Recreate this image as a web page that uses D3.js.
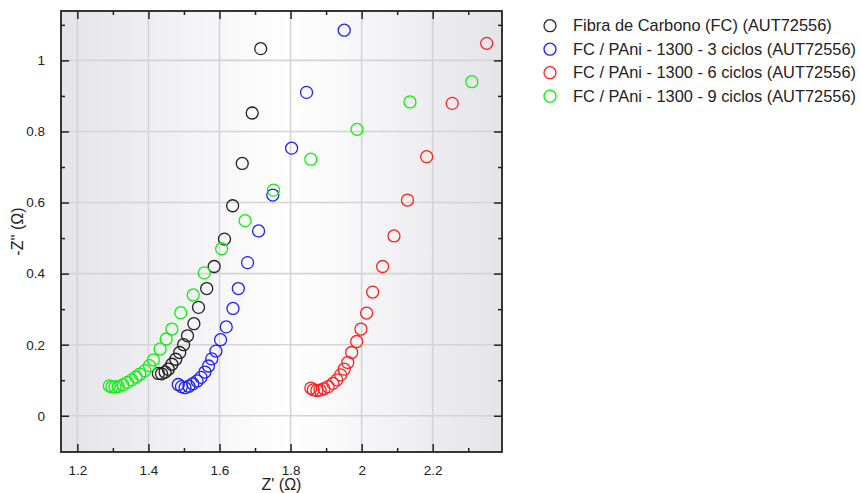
<!DOCTYPE html>
<html><head><meta charset="utf-8">
<script src="https://cdn.jsdelivr.net/npm/d3@7"></script>
<style>html,body{margin:0;padding:0;background:#fff;}svg{display:block;}</style>
</head><body>
<script>
const seriesNames = [
  "Fibra de Carbono (FC) (AUT72556)",
  "FC / PAni - 1300 - 3 ciclos (AUT72556)",
  "FC / PAni - 1300 - 6 ciclos (AUT72556)",
  "FC / PAni - 1300 - 9 ciclos (AUT72556)"
];
const seriesColors = ["#222222", "#2020ff", "#ff2020", "#10ee10"];

const fcX = [1.428,1.437,1.447,1.456,1.466,1.477,1.488,1.499,1.510,1.528,1.541,1.564,1.585,1.614,1.637,1.664,1.692,1.716];
const fcY = [0.119,0.118,0.123,0.131,0.145,0.159,0.178,0.200,0.225,0.259,0.305,0.358,0.420,0.497,0.591,0.710,0.852,1.033];

const c3X = [1.484,1.493,1.503,1.514,1.525,1.537,1.548,1.559,1.569,1.578,1.590,1.603,1.619,1.638,1.653,1.679,1.710,1.750,1.803,1.845,1.951];
const c3Y = [0.088,0.082,0.079,0.083,0.090,0.098,0.108,0.123,0.140,0.160,0.182,0.214,0.250,0.302,0.358,0.431,0.520,0.621,0.753,0.910,1.085];

const c6X = [1.857,1.864,1.874,1.883,1.894,1.906,1.919,1.930,1.941,1.951,1.961,1.972,1.986,1.998,2.014,2.031,2.059,2.091,2.129,2.183,2.255,2.352];
const c6Y = [0.078,0.073,0.071,0.072,0.076,0.082,0.091,0.101,0.115,0.131,0.150,0.178,0.209,0.244,0.289,0.348,0.420,0.506,0.607,0.729,0.879,1.048];

const c9X = [1.290,1.297,1.306,1.315,1.328,1.341,1.353,1.365,1.376,1.390,1.403,1.414,1.433,1.450,1.466,1.491,1.526,1.557,1.606,1.672,1.752,1.857,1.987,2.136,2.310];
const c9Y = [0.084,0.081,0.081,0.082,0.087,0.094,0.101,0.109,0.117,0.127,0.141,0.157,0.188,0.216,0.244,0.290,0.340,0.402,0.470,0.549,0.635,0.722,0.806,0.883,0.940];

const xTicks = [1.2, 1.4, 1.6, 1.8, 2.0, 2.2];
const xTickLabels = ["1.2", "1.4", "1.6", "1.8", "2", "2.2"];
const xMinor = [1.3, 1.5, 1.7, 1.9, 2.1, 2.3];
const yTicks = [0, 0.2, 0.4, 0.6, 0.8, 1.0];
const yTickLabels = ["0", "0.2", "0.4", "0.6", "0.8", "1"];
const yMinor = [0.1, 0.3, 0.5, 0.7, 0.9, 1.1];

const allX = [fcX, c3X, c6X, c9X];
const allY = [fcY, c3Y, c6Y, c9Y];

const W = 861, H = 493;
const m = {left: 61, right: 359, top: 11, bottom: 41};
const pw = W - m.left - m.right, ph = H - m.top - m.bottom;

const x = d3.scaleLinear().domain([1.154, 2.395]).range([0, pw]);
const y = d3.scaleLinear().domain([-0.102, 1.139]).range([ph, 0]);

const svg = d3.select("body").append("svg").attr("width", W).attr("height", H);
const defs = svg.append("defs");
const grad = defs.append("linearGradient").attr("id", "bg").attr("x1", "0").attr("x2", "1").attr("y1", "0").attr("y2", "0");
grad.append("stop").attr("offset", "0").attr("stop-color", "#e4e4e9");
grad.append("stop").attr("offset", "0.52").attr("stop-color", "#ffffff");
grad.append("stop").attr("offset", "1").attr("stop-color", "#e4e4e9");
defs.append("clipPath").attr("id", "clip").append("rect").attr("width", pw).attr("height", ph);

const g = svg.append("g").attr("transform", `translate(${m.left},${m.top})`);
g.append("rect").attr("width", pw).attr("height", ph).attr("fill", "url(#bg)");

// grid
g.append("g").selectAll("line").data(xTicks).join("line")
  .attr("x1", d => x(d)).attr("x2", d => x(d)).attr("y1", 0).attr("y2", ph)
  .attr("stroke", "#d4d4d4").attr("stroke-width", 1.6);
g.append("g").selectAll("line").data(yTicks).join("line")
  .attr("y1", d => y(d)).attr("y2", d => y(d)).attr("x1", 0).attr("x2", pw)
  .attr("stroke", "#d4d4d4").attr("stroke-width", 1.6);

// axes with inward ticks
const tickCol = "#222";
function axisStyle(sel) {
  sel.selectAll(".domain").remove();
  sel.selectAll(".tick line").attr("stroke", tickCol).attr("stroke-width", 1.5);
}
const fontFam = "'Liberation Sans', Arial, sans-serif";

// bottom
const xb = g.append("g").attr("transform", `translate(0,${ph})`)
  .call(d3.axisBottom(x).tickValues(xTicks).tickSizeInner(-8).tickSizeOuter(0).tickPadding(13)
    .tickFormat((d, i) => xTickLabels[i]));
axisStyle(xb);
xb.selectAll("text").attr("font-family", fontFam).attr("font-size", 13.5).attr("fill", "#222");
g.append("g").attr("transform", `translate(0,${ph})`)
  .call(d3.axisBottom(x).tickValues(xMinor).tickSizeInner(-4).tickSizeOuter(0).tickFormat(""))
  .call(axisStyle);
// top
g.append("g").call(d3.axisTop(x).tickValues(xTicks).tickSizeInner(-8).tickSizeOuter(0).tickFormat("")).call(axisStyle);
g.append("g").call(d3.axisTop(x).tickValues(xMinor).tickSizeInner(-4).tickSizeOuter(0).tickFormat("")).call(axisStyle);
// left
const yl = g.append("g")
  .call(d3.axisLeft(y).tickValues(yTicks).tickSizeInner(-8).tickSizeOuter(0).tickPadding(16)
    .tickFormat((d, i) => yTickLabels[i]));
axisStyle(yl);
yl.selectAll("text").attr("font-family", fontFam).attr("font-size", 13.5).attr("fill", "#222");
g.append("g").call(d3.axisLeft(y).tickValues(yMinor).tickSizeInner(-4).tickSizeOuter(0).tickFormat("")).call(axisStyle);
// right
g.append("g").attr("transform", `translate(${pw},0)`)
  .call(d3.axisRight(y).tickValues(yTicks).tickSizeInner(-8).tickSizeOuter(0).tickFormat("")).call(axisStyle);
g.append("g").attr("transform", `translate(${pw},0)`)
  .call(d3.axisRight(y).tickValues(yMinor).tickSizeInner(-4).tickSizeOuter(0).tickFormat("")).call(axisStyle);

// frame
g.append("rect").attr("width", pw).attr("height", ph).attr("fill", "none")
  .attr("stroke", "#222").attr("stroke-width", 1.8);

// points
const pts = g.append("g").attr("clip-path", "url(#clip)");
allX.forEach((xs, si) => {
  const data = xs.map((v, i) => [v, allY[si][i]]);
  pts.append("g").selectAll("circle").data(data).join("circle")
    .attr("cx", d => x(d[0])).attr("cy", d => y(d[1])).attr("r", 6)
    .attr("fill", "none").attr("stroke", seriesColors[si]).attr("stroke-width", 1.3);
});

// axis titles
svg.append("text").attr("x", m.left + pw / 2).attr("y", 490).attr("text-anchor", "middle")
  .attr("font-family", fontFam).attr("font-size", 16).attr("fill", "#222").text("Z' (Ω)");
svg.append("text").attr("transform", `translate(23,${m.top + ph / 2}) rotate(-90)`)
  .attr("text-anchor", "middle").attr("font-family", fontFam).attr("font-size", 16).attr("fill", "#222")
  .text("-Z'' (Ω)");

// legend
const lg = svg.append("g");
seriesNames.forEach((name, i) => {
  const cy = 25.7 + i * 23.5;
  lg.append("circle").attr("cx", 550).attr("cy", cy).attr("r", 6)
    .attr("fill", "none").attr("stroke", seriesColors[i]).attr("stroke-width", 1.3);
  lg.append("text").attr("x", 573).attr("y", cy).attr("dy", "0.35em")
    .attr("font-family", fontFam).attr("font-size", 16.4).attr("fill", "#222").text(name);
});
</script>
</body></html>
